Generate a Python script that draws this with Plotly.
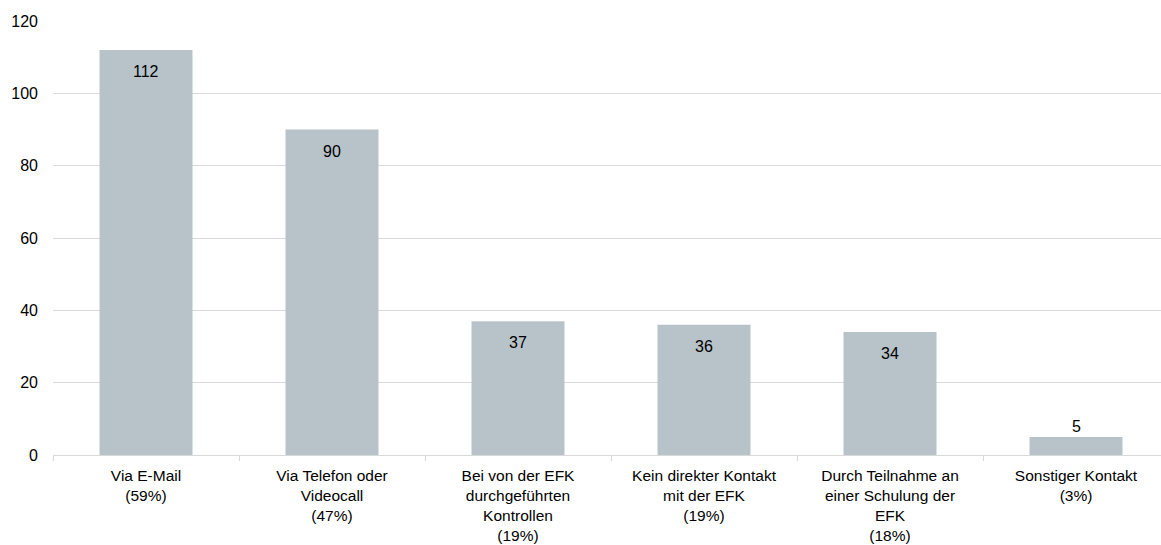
import plotly.graph_objects as go

# Contact channels with the EFK and number of responses
categories = [
    "Via E-Mail<br>(59%)",
    "Via Telefon oder<br>Videocall<br>(47%)",
    "Bei von der EFK<br>durchgeführten<br>Kontrollen<br>(19%)",
    "Kein direkter Kontakt<br>mit der EFK<br>(19%)",
    "Durch Teilnahme an<br>einer Schulung der<br>EFK<br>(18%)",
    "Sonstiger Kontakt<br>(3%)",
]
counts = [112, 90, 37, 36, 34, 5]
y_ticks = [0, 20, 40, 60, 80, 100, 120]

BAR_COLOR = "#B7C3C9"
GRID_COLOR = "#D9D9D9"
FONT = "Liberation Sans, Arial, sans-serif"
FONT_SIZE = 16

fig = go.Figure(
    go.Bar(
        x=categories,
        y=counts,
        marker=dict(color=BAR_COLOR, line=dict(width=0)),
        width=0.5,
        hoverinfo="x+y",
    )
)

# Value labels: inside near the top for tall bars, above for short ones
for cat, val in zip(categories, counts):
    inside = val >= 20
    fig.add_annotation(
        x=cat,
        y=val,
        text=str(val),
        showarrow=False,
        xref="x",
        yref="y",
        yanchor="top" if inside else "bottom",
        yshift=-11 if inside else 0,
        font=dict(family=FONT, size=FONT_SIZE, color="#000000"),
    )

fig.update_layout(
    width=1161,
    height=545,
    margin=dict(l=53, r=0, t=21, b=90, autoexpand=False),
    paper_bgcolor="white",
    plot_bgcolor="white",
    showlegend=False,
    font=dict(family=FONT, size=FONT_SIZE, color="#000000"),
    bargap=0.5,
)

fig.update_xaxes(
    type="category",
    range=[-0.5, 5.457],
    showgrid=False,
    showline=True,
    linecolor=GRID_COLOR,
    linewidth=1,
    ticks="outside",
    tickson="boundaries",
    ticklen=5,
    tickcolor=GRID_COLOR,
    ticklabelstandoff=6,
    automargin=False,
    tickfont=dict(family=FONT, size=15.5, color="#000000"),
    fixedrange=True,
)

fig.update_yaxes(
    range=[0, 120],
    tickvals=y_ticks,
    showgrid=True,
    gridcolor=GRID_COLOR,
    gridwidth=1,
    zeroline=False,
    showline=False,
    ticks="",
    ticklabelstandoff=14,
    automargin=False,
    tickfont=dict(family=FONT, size=FONT_SIZE, color="#000000"),
    fixedrange=True,
)

fig.write_html("out.html")
